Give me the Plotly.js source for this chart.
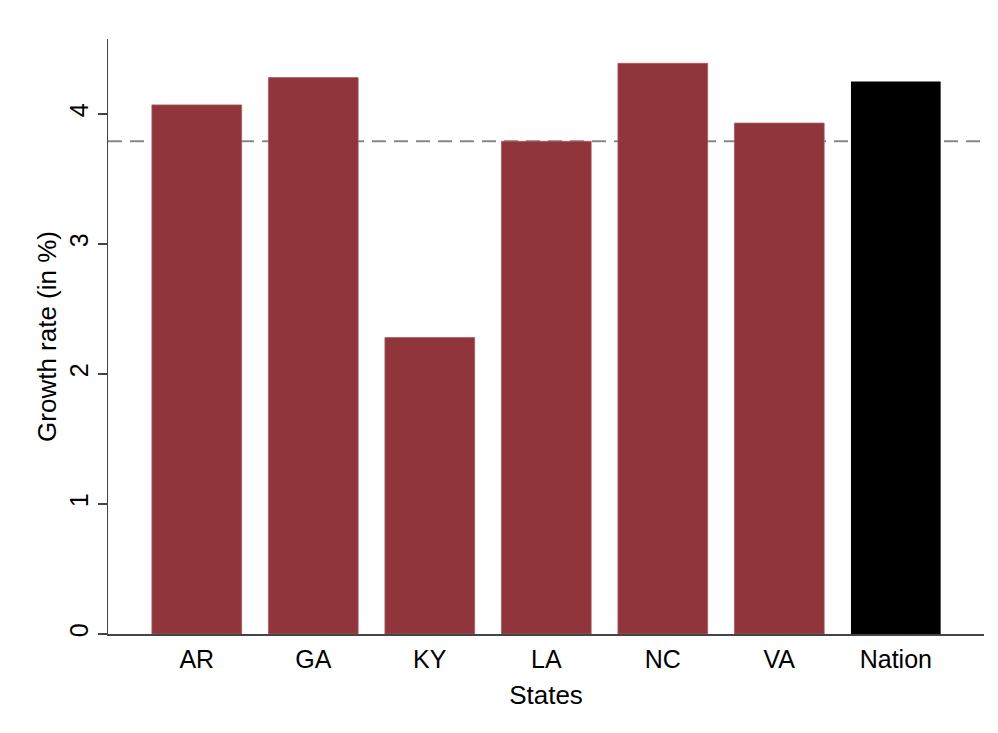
<!DOCTYPE html>
<html>
<head>
<meta charset="utf-8">
<script src="https://cdn.plot.ly/plotly-3.0.1.min.js"></script>
<style>html,body{margin:0;padding:0;background:#fff;}#chart{width:998px;height:733px;}</style>
</head>
<body>
<div id="chart"></div>
<script>
const stateLabels = ["AR", "GA", "KY", "LA", "NC", "VA"];
const stateValues = [4.07, 4.28, 2.28, 3.79, 4.39, 3.93];
const nationLabel = ["Nation"];
const nationValue = [4.25];
const stateMean = 3.79;
const yTicks = [0, 1, 2, 3, 4];

const fontFam = "Liberation Sans, Arial, sans-serif";

const traces = [
  {type: "bar", x: stateLabels, y: stateValues, width: 0.77,
   marker: {color: "#90353B", line: {color: "#a8585e", width: 0.8}}, hoverinfo: "x+y", showlegend: false},
  {type: "bar", x: nationLabel, y: nationValue, width: 0.77,
   marker: {color: "#000000"}, hoverinfo: "x+y", showlegend: false}
];

const layout = {
  width: 998, height: 733,
  paper_bgcolor: "#ffffff", plot_bgcolor: "#ffffff",
  margin: {l: 108, r: 14, t: 39, b: 99},
  barmode: "overlay",
  showlegend: false,
  font: {family: fontFam, size: 25, color: "#000"},
  xaxis: {
    type: "category",
    categoryorder: "array",
    categoryarray: stateLabels.concat(nationLabel),
    range: [-0.762, 6.757],
    showline: true, linecolor: "#444", linewidth: 1.5,
    ticks: "", showgrid: false, zeroline: false,
    tickfont: {family: fontFam, size: 25, color: "#000"},
    ticklabelstandoff: 2,
    title: {text: "States", font: {family: fontFam, size: 26, color: "#000"}, standoff: 14}
  },
  yaxis: {
    range: [0, 4.577],
    tickvals: yTicks,
    ticktext: yTicks.map(String),
    tickangle: -90,
    ticks: "outside", ticklen: 9, tickwidth: 1.5, tickcolor: "#444",
    showline: true, linecolor: "#444", linewidth: 1.5,
    showgrid: false, zeroline: false,
    tickfont: {family: fontFam, size: 25, color: "#000"},
    ticklabelstandoff: 0,
    title: {text: "Growth rate (in %)", font: {family: fontFam, size: 26, color: "#000"}, standoff: 0}
  },
  shapes: [
    {type: "line", layer: "below", xref: "paper", x0: 0, x1: 1, yref: "y", y0: stateMean, y1: stateMean,
     line: {color: "#888", width: 2, dash: "14px,8px"}}
  ]
};

Plotly.newPlot("chart", traces, layout, {displayModeBar: false, staticPlot: true});
</script>
</body>
</html>
